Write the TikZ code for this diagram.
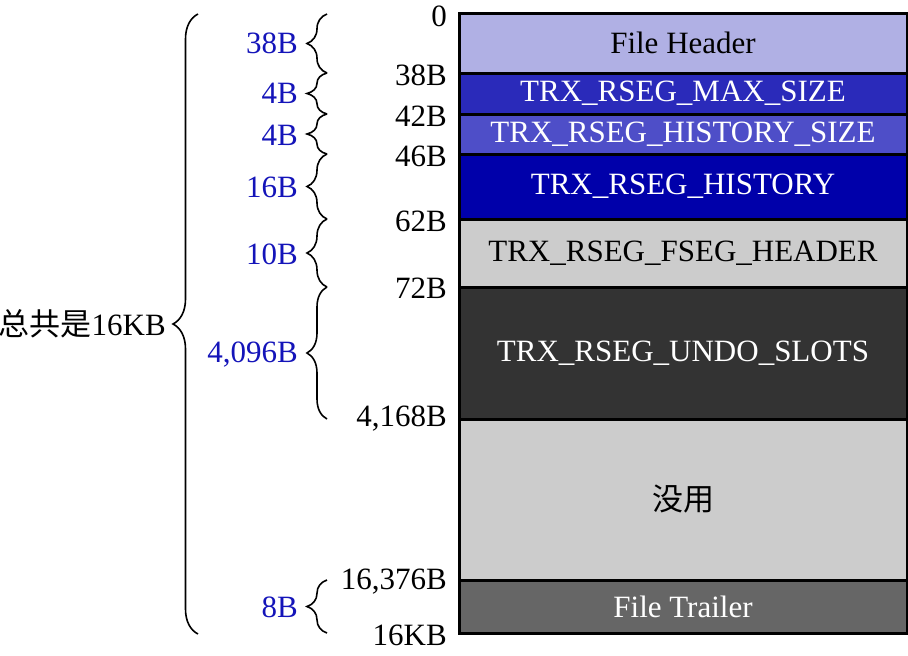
\documentclass[tikz,border=0pt]{standalone}
\usepackage{fontspec}
\setmainfont{Liberation Serif}
\newfontfamily\cjk{Noto Sans CJK SC}
\usetikzlibrary{decorations.pathreplacing}
\definecolor{cFH}{RGB}{176,176,228}
\definecolor{cMAX}{RGB}{42,42,186}
\definecolor{cHS}{RGB}{78,78,200}
\definecolor{cHIS}{RGB}{0,0,170}
\definecolor{cLG}{RGB}{204,204,204}
\definecolor{cDK}{RGB}{51,51,51}
\definecolor{cTR}{RGB}{102,102,102}
\definecolor{cBL}{RGB}{20,20,185}
\begin{document}
\begin{tikzpicture}[x=1pt,y=-1pt,font=\fontsize{31}{34}\selectfont,
  seg/.style={draw=black,line width=3pt,minimum width=448pt,inner sep=0pt,outer sep=0pt,anchor=north},
  off/.style={anchor=east,inner sep=0pt,text=black},
  sz/.style={anchor=east,inner sep=0pt,text=cBL},
  sbrace/.style={draw=black,line width=1.6pt,decorate,decoration={brace,amplitude=20pt}},
  bbrace/.style={draw=black,line width=1.6pt,decorate,decoration={brace,amplitude=25pt}}]
\useasboundingbox (0,0) rectangle (908,656);
% segments
\node[seg,fill=cFH,minimum height=60pt] (fh) at (683,13) {File Header};
\node[seg,fill=cMAX,minimum height=41pt,text=white] (max) at (683,73) {TRX\_RSEG\_MAX\_SIZE};
\node[seg,fill=cHS,minimum height=40pt,text=white] (hs) at (683,114) {TRX\_RSEG\_HISTORY\_SIZE};
\node[seg,fill=cHIS,minimum height=65pt,text=white] (his) at (683,154) {TRX\_RSEG\_HISTORY};
\node[seg,fill=cLG,minimum height=68pt] (fseg) at (683,219) {TRX\_RSEG\_FSEG\_HEADER};
\node[seg,fill=cDK,minimum height=132pt,text=white] (undo) at (683,287) {TRX\_RSEG\_UNDO\_SLOTS};
\node[seg,fill=cLG,minimum height=161pt] (unused) at (683,419) {\cjk 没用};
\node[seg,fill=cTR,minimum height=53pt,text=white] (tr) at (683,580) {File Trailer};
% offsets
\node[off] (o0) at (447,16) {0};
\node[off] (o38) at (447,75) {38B};
\node[off] (o42) at (447,116) {42B};
\node[off] (o46) at (447,156) {46B};
\node[off] (o62) at (447,221) {62B};
\node[off] (o72) at (447,288) {72B};
\node[off] (o4168) at (447,419) {4,168B};
\node[off] (o16376) at (447,582) {16,376B};
\node[off] (o16k) at (447,635) {16KB};
% brace coordinates
\coordinate (b0) at (327,14);
\coordinate (b38) at (327,73);
\coordinate (b42) at (327,114);
\coordinate (b46) at (327,154);
\coordinate (b62) at (327,219);
\coordinate (b72) at (327,287);
\coordinate (b4168) at (327,419);
\coordinate (b16376) at (327,580);
\coordinate (b16k) at (327,633);
\draw[sbrace] (b38) -- (b0);
\draw[sbrace] (b42) -- (b38);
\draw[sbrace] (b46) -- (b42);
\draw[sbrace] (b62) -- (b46);
\draw[sbrace] (b72) -- (b62);
\draw[sbrace] (b4168) -- (b72);
\draw[sbrace] (b16k) -- (b16376);
% sizes
\node[sz] (s38) at (298,43) {38B};
\node[sz] (s4a) at (298,93) {4B};
\node[sz] (s4b) at (298,135) {4B};
\node[sz] (s16) at (298,187) {16B};
\node[sz] (s10) at (298,254) {10B};
\node[sz] (s4096) at (298,355) {4,096B};
\node[sz] (s8) at (298,607) {8B};
% total
\coordinate (tt) at (198,14);
\coordinate (tb) at (198,634);
\draw[bbrace] (tb) -- (tt);
\node[off] (total) at (166,324) {{\cjk 总共是}16KB};
\end{tikzpicture}
\end{document}
